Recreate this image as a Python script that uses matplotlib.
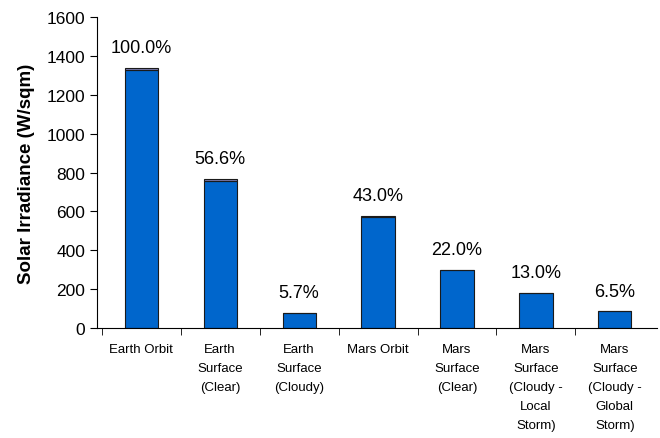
import matplotlib.pyplot as plt

plt.rcParams['font.family'] = ['Liberation Sans', 'DejaVu Sans']

categories = ["Earth Orbit", "Earth\nSurface\n(Clear)", "Earth\nSurface\n(Cloudy)", "Mars Orbit",
              "Mars\nSurface\n(Clear)", "Mars\nSurface\n(Cloudy -\nLocal\nStorm)",
              "Mars\nSurface\n(Cloudy -\nGlobal\nStorm)"]
main_vals = [1330, 755, 78, 570, 298, 180, 86]
top_vals = [10, 14, 0, 8, 0, 0, 0]
pct_labels = ["100.0%", "56.6%", "5.7%", "43.0%", "22.0%", "13.0%", "6.5%"]

fig = plt.figure(figsize=(6.6, 4.39), dpi=100)
ax = fig.add_axes([0.147, 0.2506, 0.848, 0.708])

x = list(range(len(categories)))
ax.bar(x, main_vals, width=0.42, color='#0066cc', edgecolor='#1a1a1a', linewidth=0.8)
ax.bar(x, top_vals, width=0.42, bottom=main_vals, color='#7a7aaa', edgecolor='#1a1a1a', linewidth=0.8)

for i in x:
    ax.text(i, main_vals[i] + top_vals[i] + 60, pct_labels[i], ha='center', va='bottom', fontsize=13)

ax.set_xlim(-0.56, 6.53)
ax.set_ylim(0, 1600)
ax.set_yticks(range(0, 1601, 200))
ax.tick_params(axis='y', labelsize=12.5, length=5, direction='out')
ax.set_xticks(x)
ax.set_xticklabels(categories, fontsize=9.5, linespacing=1.78, va='top')
ax.tick_params(axis='x', length=0, pad=11)
ax.set_xticks([i + 0.5 for i in x[:-1]] + [-0.5], minor=True)
ax.tick_params(axis='x', which='minor', length=5, direction='out')
ax.set_ylabel('Solar Irradiance (W/sqm)', fontsize=13.5, fontweight='bold', labelpad=8)

ax.spines['top'].set_visible(False)
ax.spines['right'].set_visible(False)

fig.savefig('out.png', dpi=100)
